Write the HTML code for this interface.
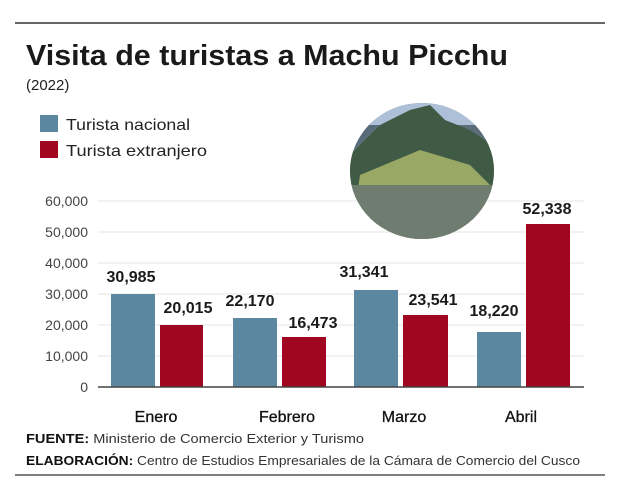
<!DOCTYPE html>
<html><head><meta charset="utf-8"><style>
html,body{margin:0;padding:0;background:#fff;}
svg{display:block;font-family:"Liberation Sans",sans-serif;}
</style></head><body>
<svg width="620" height="491" viewBox="0 0 620 491" xmlns="http://www.w3.org/2000/svg">
<defs>
<radialGradient id="ph" cx="50%" cy="60%" r="60%">
<stop offset="0" stop-color="#8a9a6a"/><stop offset="0.6" stop-color="#6b7a72"/><stop offset="1" stop-color="#4a5f80"/>
</radialGradient>
<clipPath id="cc"><ellipse cx="422" cy="171" rx="72" ry="68"/></clipPath>
</defs>
<line x1="15" y1="23" x2="605" y2="23" stroke="#333" stroke-width="1.5"/>
<text x="26" y="65" font-size="29" font-weight="bold" fill="#1a1a1a" textLength="482" lengthAdjust="spacingAndGlyphs">Visita de turistas a Machu Picchu</text>
<text x="26" y="90" font-size="15" fill="#222">(2022)</text>
<rect x="40" y="115" width="18" height="17" fill="#5b88a0"/>
<text x="66" y="130" font-size="16" fill="#222" textLength="124" lengthAdjust="spacingAndGlyphs">Turista nacional</text>
<rect x="40" y="141" width="18" height="17" fill="#a0061f"/>
<text x="66" y="156" font-size="16" fill="#222" textLength="141" lengthAdjust="spacingAndGlyphs">Turista extranjero</text>
<g stroke="#e6e6e6" stroke-width="1">
<line x1="98" y1="201" x2="584" y2="201"/><line x1="98" y1="232" x2="584" y2="232"/>
<line x1="98" y1="263" x2="584" y2="263"/><line x1="98" y1="294" x2="584" y2="294"/>
<line x1="98" y1="325" x2="584" y2="325"/><line x1="98" y1="356" x2="584" y2="356"/>
</g>
<g clip-path="url(#cc)">
<rect x="340" y="95" width="170" height="150" fill="url(#ph)"/>
<rect x="340" y="95" width="170" height="30" fill="#aebfd8"/>
<polygon points="345,160 380,125 410,110 430,105 445,120 470,130 500,150 500,200 345,200" fill="#3f5a45"/>
<polygon points="360,175 420,150 470,165 495,190 495,245 350,245" fill="#9aa866"/>
<rect x="350" y="185" width="150" height="60" fill="#6f7c70"/>
</g>
<g font-size="14" fill="#444" text-anchor="end">
<text x="88" y="206">60,000</text><text x="88" y="237">50,000</text><text x="88" y="268">40,000</text>
<text x="88" y="299">30,000</text><text x="88" y="330">20,000</text><text x="88" y="361">10,000</text><text x="88" y="392">0</text>
</g>
<g fill="#5b88a0">
<rect x="111" y="294" width="44" height="93"/><rect x="233" y="318" width="44" height="69"/>
<rect x="354" y="290" width="44" height="97"/><rect x="477" y="332" width="44" height="55"/>
</g>
<g fill="#a0061f">
<rect x="160" y="325" width="43" height="62"/><rect x="282" y="337" width="44" height="50"/>
<rect x="403" y="315" width="45" height="72"/><rect x="526" y="224" width="44" height="163"/>
</g>
<line x1="98" y1="387" x2="584" y2="387" stroke="#444" stroke-width="1.5"/>
<g font-size="16" font-weight="bold" fill="#1a1a1a" text-anchor="middle">
<text x="131" y="282">30,985</text><text x="188" y="313">20,015</text>
<text x="250" y="306">22,170</text><text x="313" y="328">16,473</text>
<text x="364" y="277">31,341</text><text x="433" y="305">23,541</text>
<text x="494" y="316">18,220</text><text x="547" y="214">52,338</text>
</g>
<g font-size="16" fill="#111" text-anchor="middle" stroke="#111" stroke-width="0.3">
<text x="156" y="422">Enero</text><text x="287" y="422">Febrero</text>
<text x="404" y="422">Marzo</text><text x="521" y="422">Abril</text>
</g>
<text x="26" y="443" font-size="13" fill="#333" textLength="338" lengthAdjust="spacingAndGlyphs"><tspan font-weight="bold" fill="#111">FUENTE:</tspan> Ministerio de Comercio Exterior y Turismo</text>
<text x="26" y="465" font-size="13" fill="#333" textLength="554" lengthAdjust="spacingAndGlyphs"><tspan font-weight="bold" fill="#111">ELABORACIÓN:</tspan> Centro de Estudios Empresariales de la Cámara de Comercio del Cusco</text>
<line x1="15" y1="475" x2="605" y2="475" stroke="#555" stroke-width="1.5"/>
</svg>
</body></html>
